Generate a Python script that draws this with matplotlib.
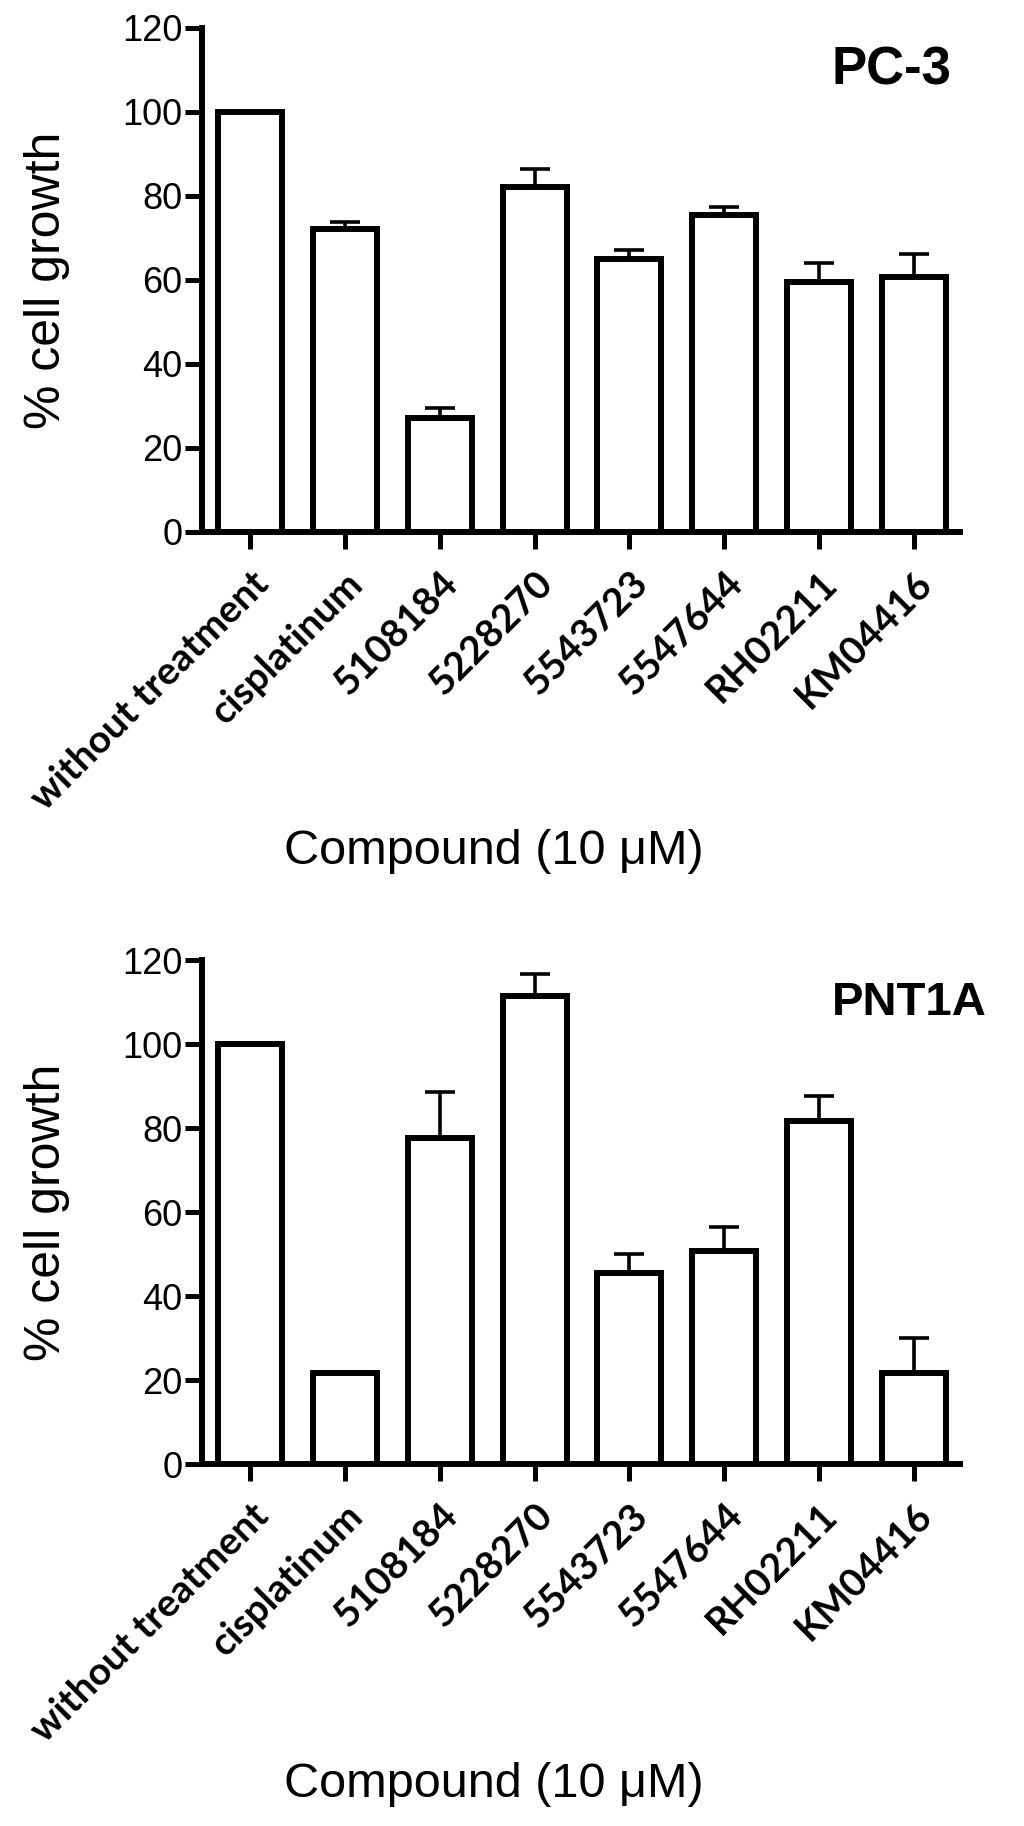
#!/usr/bin/env python3
"""
Cell growth of PC-3 and PNT1A cells after compound treatment (10 uM)
"""

import numpy as np
import matplotlib
matplotlib.use('Agg')
import matplotlib.pyplot as plt
from matplotlib.transforms import ScaledTranslation

# compounds on the x axis
compounds = ['without treatment', 'cisplatinum', '5108184', '5228270',
             '5543723', '5547644', 'RH02211', 'KM04416']

# PC-3 % cell growth and upper error
pc3_growth = [100, 72.2, 27.1, 82.1, 65.0, 75.5, 59.4, 60.7]
pc3_err = [0, 1.5, 2.4, 4.3, 2.1, 1.9, 4.7, 5.4]

# PNT1A % cell growth and upper error
pnt1a_growth = [100, 21.7, 77.6, 111.4, 45.4, 50.8, 81.6, 21.7]
pnt1a_err = [0, 0, 11.0, 5.3, 4.7, 5.7, 6.1, 8.3]

yticks = [0, 20, 40, 60, 80, 100, 120]

LW = 4.3


def draw_panel(fig, ax, values, errors, cell_line, title_size):
    """一个面板：白色柱子 + 向上误差线"""
    x = np.arange(len(compounds))
    ax.bar(x, values, width=0.675, color='white', edgecolor='black',
           linewidth=LW, zorder=3)
    ax.errorbar(x, values, yerr=[np.zeros(len(errors)), errors], fmt='none',
                ecolor='black', elinewidth=2.6, capsize=11, capthick=2.6,
                zorder=2)

    ax.set_xlim(-0.506, 7.485)
    ax.set_ylim(0, 120)
    ax.set_yticks(yticks)
    ax.set_xticks(x)
    ax.set_xticklabels(compounds, rotation=45, ha='right', va='top',
                       rotation_mode='anchor', fontsize=28,
                       fontweight='bold', family=['Lato', 'DejaVu Sans'])
    # labels sit a little left of the tick
    shift = ScaledTranslation(-9 / 72, -2 / 72, fig.dpi_scale_trans)
    for lbl in ax.get_xticklabels():
        lbl.set_transform(lbl.get_transform() + shift)
    for lbl in ax.get_yticklabels():
        lbl.set_fontsize(26)
        lbl.set_family('Liberation Sans')

    ax.spines['top'].set_visible(False)
    ax.spines['right'].set_visible(False)
    ax.spines['left'].set_linewidth(LW)
    ax.spines['bottom'].set_linewidth(LW)
    ax.tick_params(axis='both', length=12, width=3.6, direction='out')
    ax.tick_params(axis='y', pad=2)
    ax.tick_params(axis='x', pad=12)

    ax.set_ylabel('% cell growth', fontsize=36, family='Liberation Sans',
                  va='center')
    ax.yaxis.set_label_coords(-0.205, 0.5)
    ax.set_xlabel('Compound (10 \u03bcM)', fontsize=35,
                  family='Liberation Sans', va='center')
    ax.xaxis.set_label_coords(0.385, -0.635)

    ax.text(0.831, 0.915, cell_line, transform=ax.transAxes, ha='left',
            va='center', fontsize=title_size, fontweight='bold',
            family='Liberation Sans')


fig = plt.figure(figsize=(10.24, 18.26), dpi=100)
ax1 = fig.add_axes([0.1973, 0.7087, 0.7402, 0.2760])
ax2 = fig.add_axes([0.1973, 0.1982, 0.7402, 0.2760])

draw_panel(fig, ax1, pc3_growth, pc3_err, 'PC-3', 38)
draw_panel(fig, ax2, pnt1a_growth, pnt1a_err, 'PNT1A', 34)

fig.savefig('out.png', dpi=100)
